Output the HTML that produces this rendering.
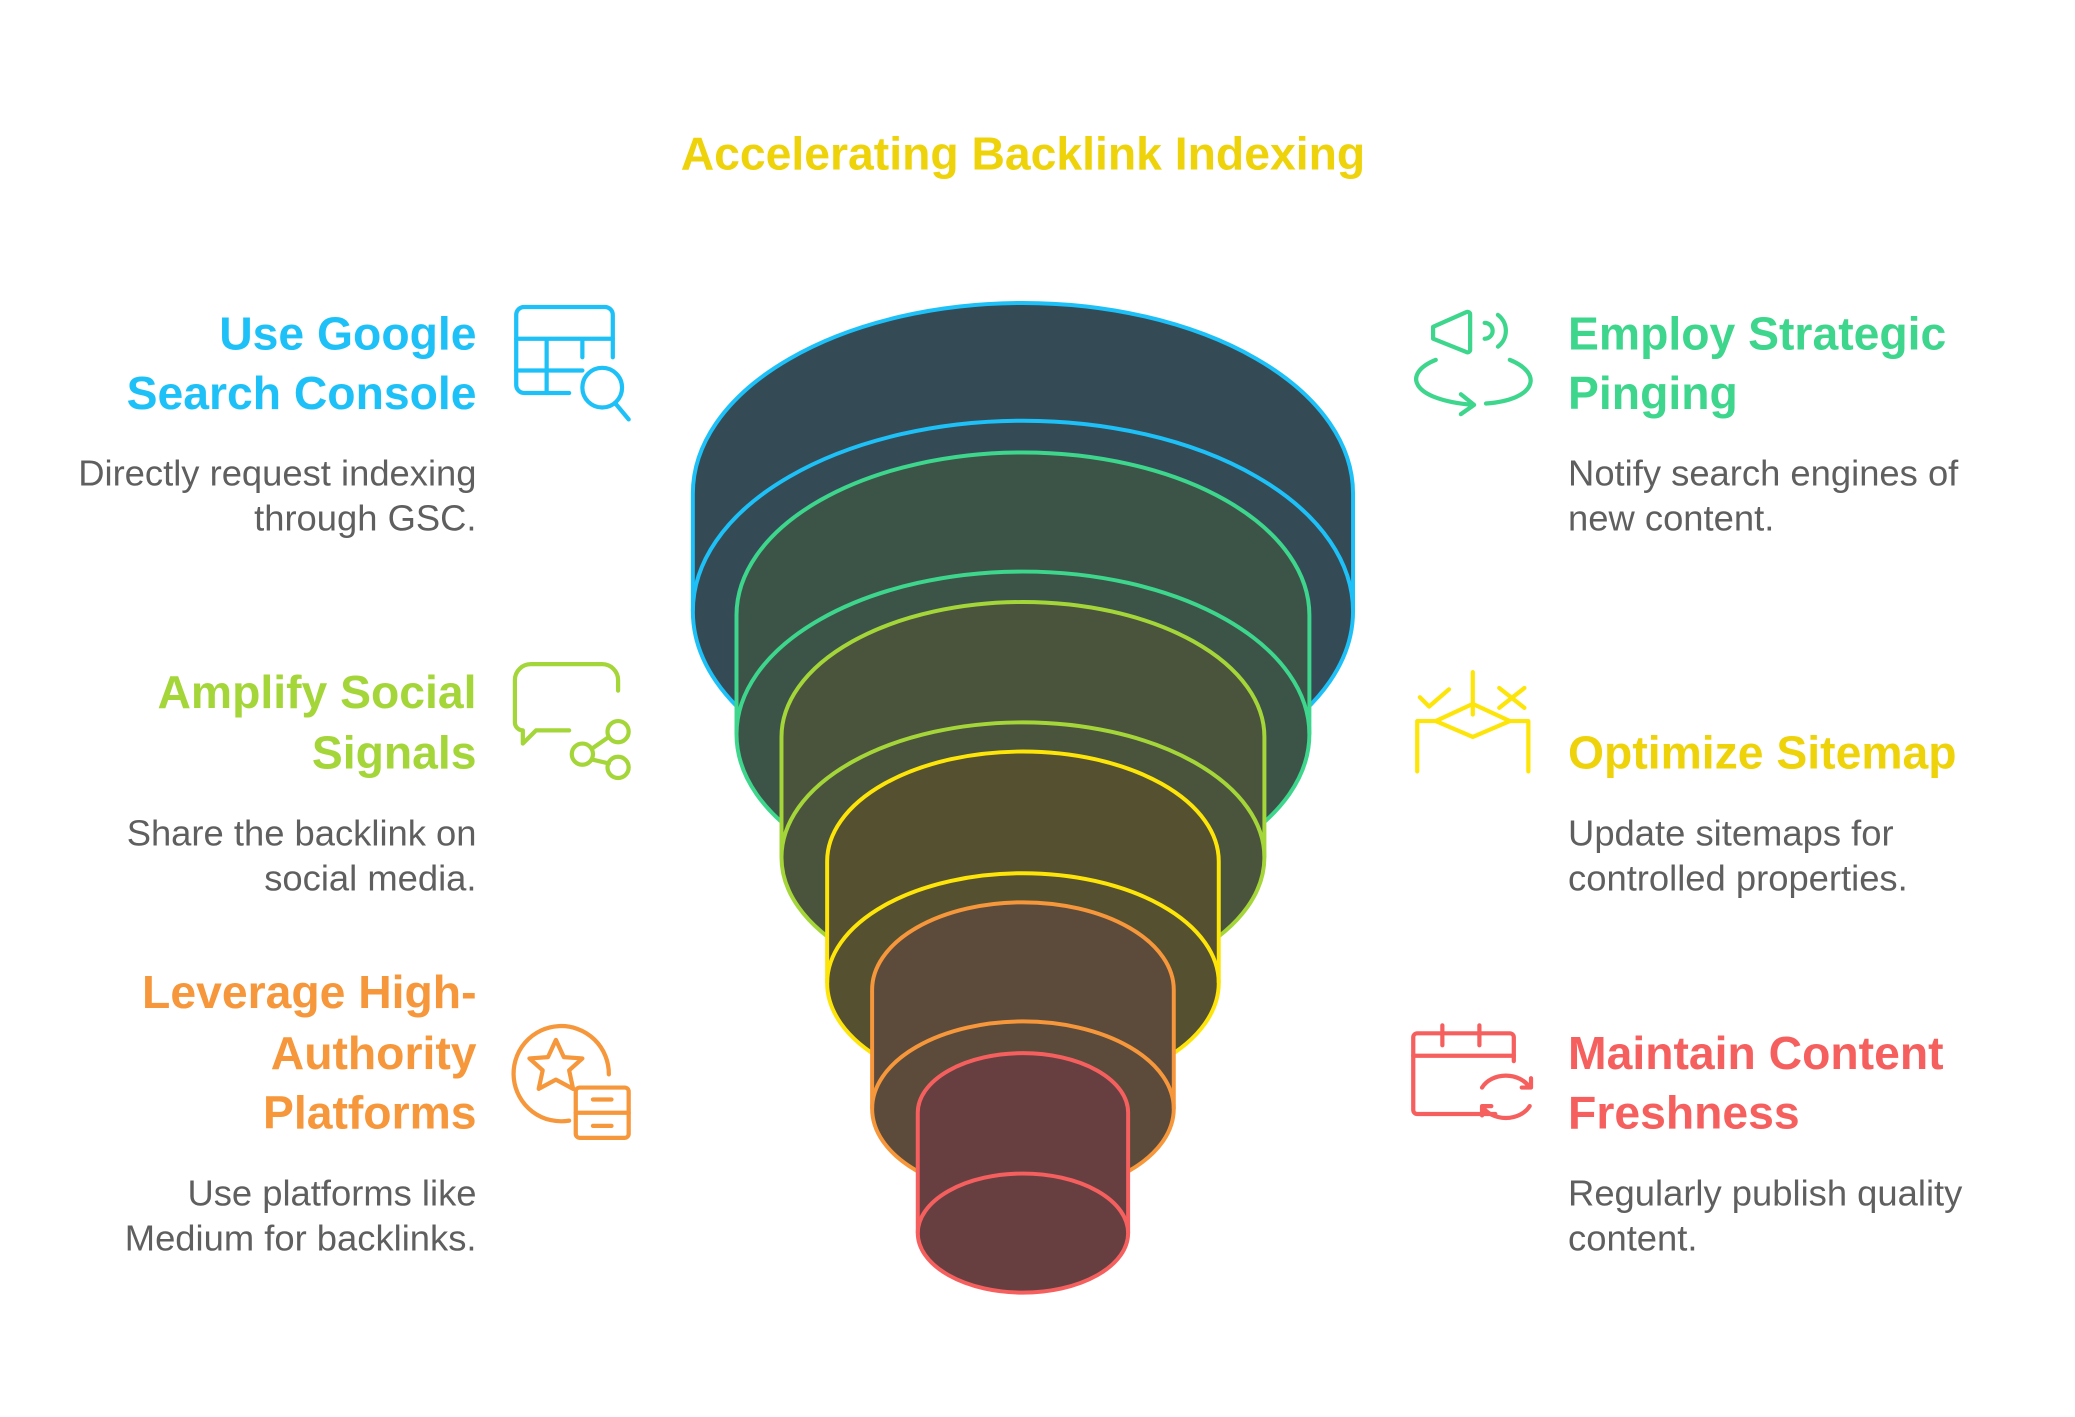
<!DOCTYPE html>
<html><head><meta charset="utf-8"><style>
html,body{margin:0;padding:0;background:#fff;}
svg{display:block;}
.h{font-family:"Liberation Sans",sans-serif;font-weight:bold;font-size:35px;}
.d{font-family:"Liberation Sans",sans-serif;font-size:27.5px;fill:#5f5f5f;}
.i{fill:none;stroke-width:3.2;stroke-linecap:round;stroke-linejoin:round;}
</style></head><body>
<svg width="2075" height="1417" viewBox="0 0 1568 1071" xmlns="http://www.w3.org/2000/svg">
<text x="773" y="128" text-anchor="middle" class="h" fill="#eed30a">Accelerating Backlink Indexing</text>

<!-- funnel -->
<g stroke-width="3">
<path d="M523.5,373 A249.5,144 0 0 1 1022.5,373 L1022.5,462 A249.5,144 0 0 1 523.5,462 Z" fill="#344b56" stroke="#1ec1f7"/>
<path d="M523.5,462 A249.5,144 0 0 1 1022.5,462" fill="none" stroke="#1ec1f7"/>
<path d="M556.5,465 A216.5,123 0 0 1 989.5,465 L989.5,555 A216.5,123 0 0 1 556.5,555 Z" fill="#3b5447" stroke="#3dd68c"/>
<path d="M556.5,555 A216.5,123 0 0 1 989.5,555" fill="none" stroke="#3dd68c"/>
<path d="M590.5,557 A182.5,102 0 0 1 955.5,557 L955.5,648 A182.5,102 0 0 1 590.5,648 Z" fill="#4a533b" stroke="#a4d63a"/>
<path d="M590.5,648 A182.5,102 0 0 1 955.5,648" fill="none" stroke="#a4d63a"/>
<path d="M625,651 A148,83 0 0 1 921,651 L921,743 A148,83 0 0 1 625,743 Z" fill="#55502f" stroke="#fde50a"/>
<path d="M625,743 A148,83 0 0 1 921,743" fill="none" stroke="#fde50a"/>
<path d="M659,748 A114,66 0 0 1 887,748 L887,838 A114,66 0 0 1 659,838 Z" fill="#5c4a3a" stroke="#f5973a"/>
<path d="M659,838 A114,66 0 0 1 887,838" fill="none" stroke="#f5973a"/>
<path d="M693.5,841 A79.5,45 0 0 1 852.5,841 L852.5,932 A79.5,45 0 0 1 693.5,932 Z" fill="#673f41" stroke="#f5605f"/>
<path d="M693.5,932 A79.5,45 0 0 1 852.5,932" fill="none" stroke="#f5605f"/>
</g>

<!-- left texts -->
<g text-anchor="end">
<text x="360" y="264" class="h" fill="#1ec1f7">Use Google</text>
<text x="360" y="309" class="h" fill="#1ec1f7">Search Console</text>
<text x="360" y="367" class="d">Directly request indexing</text>
<text x="360" y="401" class="d">through GSC.</text>
<text x="360" y="535" class="h" fill="#a4d63a">Amplify Social</text>
<text x="360" y="581" class="h" fill="#a4d63a">Signals</text>
<text x="360" y="639" class="d">Share the backlink on</text>
<text x="360" y="673" class="d">social media.</text>
<text x="360" y="762" class="h" fill="#f5973a">Leverage High-</text>
<text x="360" y="808" class="h" fill="#f5973a">Authority</text>
<text x="360" y="853" class="h" fill="#f5973a">Platforms</text>
<text x="360" y="911" class="d">Use platforms like</text>
<text x="360" y="945" class="d">Medium for backlinks.</text>
</g>
<!-- right texts -->
<g>
<text x="1185" y="264" class="h" fill="#3dd68c">Employ Strategic</text>
<text x="1185" y="309" class="h" fill="#3dd68c">Pinging</text>
<text x="1185" y="367" class="d">Notify search engines of</text>
<text x="1185" y="401" class="d">new content.</text>
<text x="1185" y="581" class="h" fill="#eed30a">Optimize Sitemap</text>
<text x="1185" y="639" class="d">Update sitemaps for</text>
<text x="1185" y="673" class="d">controlled properties.</text>
<text x="1185" y="808" class="h" fill="#f5605f">Maintain Content</text>
<text x="1185" y="853" class="h" fill="#f5605f">Freshness</text>
<text x="1185" y="911" class="d">Regularly publish quality</text>
<text x="1185" y="945" class="d">content.</text>
</g>

<!-- icons -->
<g class="i" stroke="#1ec1f7">
<path d="M463,270 V238 a6,6 0 0 0 -6,-6 H396 a6,6 0 0 0 -6,6 V291 a6,6 0 0 0 6,6 H430"/>
<path d="M390,256 H463 M413,256 V297 M440,256 V270 M390,280 H440"/>
<circle cx="455" cy="293" r="15"/><path d="M465,305 L475,317"/>
</g>
<g class="i" stroke="#a4d63a">
<path d="M430,552 H405 l-10,10 v-10 a6,6 0 0 1 -6,-6 V514 a12,12 0 0 1 12,-12 H455 a12,12 0 0 1 12,12 V522"/>
<circle cx="440" cy="570" r="8"/><circle cx="467" cy="553" r="8"/><circle cx="467" cy="580" r="8"/>
<path d="M447,566 L460,557 M447,574 L460,577"/>
</g>
<g class="i" stroke="#f5973a">
<path d="M460,812 a36,36 0 1 0 -30,35"/>
<path d="M420,786 l6,13 14,1 -10,9 3,14 -13,-7 -13,7 3,-14 -10,-9 14,-1 z"/>
<rect x="435" y="822" width="40" height="38" rx="3"/>
<path d="M435,841 H475 M448,831 H462 M448,851 H462"/>
</g>
<g class="i" stroke="#3dd68c">
<path d="M1083,247 L1108,236 a2,2 0 0 1 3,2 V264 a2,2 0 0 1 -3,2 L1083,256 Z"/>
<path d="M1122,244 a6,6 0 0 1 0,12 M1132,238 a15,15 0 0 1 0,24"/>
<path d="M1085,272 C1060,282 1065,302 1113,306 M1104,298 L1114,306 1104,313"/>
<path d="M1141,272 C1166,282 1162,302 1123,305"/>
</g>
<g class="i" stroke="#fde50a">
<path d="M1113,508 V540 M1085,545 L1113,532 1141,545 1113,557 Z"/>
<path d="M1071,583 V545 H1085 M1141,545 H1155 V583"/>
<path d="M1073,527 L1080,534 1095,521 M1133,520 L1152,535 M1152,520 L1133,535"/>
</g>
<g class="i" stroke="#f5605f">
<path d="M1130,842 H1071 a3,3 0 0 1 -3,-3 V784 a3,3 0 0 1 3,-3 H1141 a3,3 0 0 1 3,3 V802"/>
<path d="M1068,798 H1144 M1090,775 V790 M1118,775 V790"/>
<path d="M1120,822 a20,16 0 0 1 36,0 M1150,822 H1157 V815 M1156,836 a20,16 0 0 1 -36,0 M1127,836 H1120 V843"/>
</g>
</svg>
</body></html>
